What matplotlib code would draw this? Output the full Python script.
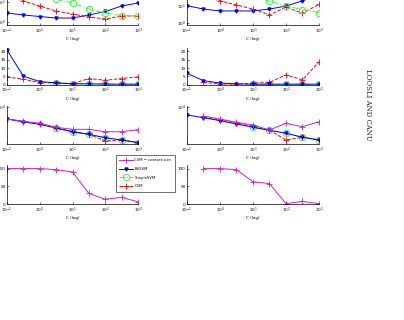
import numpy as np
import matplotlib
matplotlib.use("Agg")
import matplotlib.pyplot as plt
from matplotlib.ticker import FixedLocator, NullLocator

nan = np.nan
C = [0.1, 0.316, 1, 3.16, 10, 31.6, 100, 316, 1000]
x_ticks = [0.1, 1, 10, 100, 1000]
x_tick_labels = [r"$10^{-1}$", r"$10^{0}$", r"$10^{1}$", r"$10^{2}$", r"$10^{3}$"]

# Row 1 (log scale)
r1L_blue = [2.82, 2.24, 1.88, 1.58, 1.58, 2.24, 3.35, 6.31, 8.91]
r1L_red = [20.0, 11.2, 6.3, 3.55, 2.5, 1.8, 1.41, 2.0, 2.0]
r1L_green = [nan, nan, nan, 14.0, 8.9, 4.5, 2.8, 2.1, 2.0]
r1R_blue = [10.4, 6.6, 5.1, 5.1, 5.1, 6.6, 10.0, 20.0, 50.0]
r1R_red = [nan, 39.0, 20.0, 11.4, 6.6, 2.95, 8.7, 3.7, 12.6]
r1R_green = [nan, nan, nan, nan, 39.0, 19.6, 10.0, 6.2, 4.1]

# Row 2 (linear)
r2L_blue = [20.8, 5.1, 1.9, 1.1, 0.6, 0.5, 0.4, 0.3, 0.3]
r2L_red = [4.7, 3.3, 1.3, 1.0, 0.6, 3.7, 2.7, 3.7, 4.7]
r2L_green = [nan, nan, nan, 1.0, 0.6, 0.4, 0.4, 0.3, 0.3]
r2R_blue = [6.9, 2.4, 1.0, 0.5, 0.3, 0.3, 0.3, 0.3, 0.3]
r2R_red = [nan, 1.4, 0.5, 0.3, 1.0, 1.4, 5.9, 2.9, 13.7]
r2R_green = [nan, nan, nan, nan, 0.5, 0.3, 0.3, 0.3, 0.3]

# Row 3 (log scale, exponents of 10)
r3L_mag = [3.8, 3.762, 3.728, 3.662, 3.628, 3.628, 3.588, 3.588, 3.622]
r3L_blue = [3.8, 3.755, 3.712, 3.65, 3.588, 3.545, 3.488, 3.45, 3.405]
r3L_red = [3.8, 3.755, 3.712, 3.65, 3.588, 3.545, 3.433, 3.45, 3.405]
r3L_green = [nan, nan, nan, 3.65, 3.588, 3.545, 3.488, 3.45, 3.405]
r3R_mag = [nan, 3.85, 3.8, 3.745, 3.7, 3.617, 3.728, 3.672, 3.755]
r3R_blue = [3.867, 3.822, 3.772, 3.717, 3.662, 3.612, 3.562, 3.495, 3.45]
r3R_red = [nan, 3.833, 3.783, 3.733, 3.675, 3.612, 3.45, 3.495, 3.45]
r3R_green = [nan, nan, nan, nan, 3.662, 3.612, 3.562, 3.495, 3.45]

# Row 4 (coreset size, %)
r4L_mag = [100, 100, 100, 97, 90.5, 30.5, 14, 19.5, 7]
r4R_mag = [nan, 100, 100, 97, 63, 58, 2, 8, 2]

W, H = 404, 320
fig = plt.figure(figsize=(W / 100, H / 100), dpi=100)

FS = 3.0
LW = 0.7
GREEN = "#44ee44"

def ax_at(xpx, ytop, xw, ybot):
    return fig.add_axes([xpx / W, 1 - ybot / H, xw / W, (ybot - ytop) / H])

def style(ax):
    for s in ("top", "right"):
        ax.spines[s].set_visible(False)
    for s in ("left", "bottom"):
        ax.spines[s].set_linewidth(0.5)
    ax.set_xscale("log")
    ax.set_xlim(0.1, 1000)
    ax.xaxis.set_major_locator(FixedLocator(x_ticks))
    ax.set_xticklabels(x_tick_labels)
    ax.xaxis.set_minor_locator(NullLocator())
    ax.tick_params(labelsize=FS, length=1.5, width=0.4, direction="in", pad=1)
    ax.set_xlabel("C (log)", fontsize=FS, labelpad=1)
    ax.patch.set_alpha(0)

def plot_blue(ax, y):
    return ax.plot(C, y, color="#0000ff", lw=LW, ls="-", marker="v", ms=2.2, mfc="#0000ff", mec="#0000ff", label="BVSVM")[0]

def plot_red(ax, y):
    return ax.plot(C, y, color="#ff0000", lw=LW, ls="--", marker="+", ms=5, mew=0.6, label="CVM")[0]

def plot_green(ax, y):
    return ax.plot(C, y, color=GREEN, lw=LW, ls="-.", marker="o", ms=4.6, mfc="none", mec=GREEN, mew=0.7, label="SimpleSVM")[0]

def plot_mag(ax, y):
    return ax.plot(C, y, color="#cc22cc", lw=LW, ls="-", marker="+", ms=5, mew=0.6, label="CVM \u2212 coreset size")[0]

cols = [(7, 131), (187, 132)]
rows = [(-12, 25), (48, 84.7), (106, 144), (165, 204.3)]

# Row 1
for (x0, w), blue, red, green, ylim in [
    (cols[0], r1L_blue, r1L_red, r1L_green, (10 ** -0.15, 10 ** 1.7)),
    (cols[1], r1R_blue, r1R_red, r1R_green, (10 ** -0.12, 10 ** 2.06)),
]:
    ax = ax_at(x0, rows[0][0], w, rows[0][1])
    style(ax)
    ax.set_yscale("log")
    ax.yaxis.set_major_locator(FixedLocator([1, 10]))
    ax.yaxis.set_minor_locator(NullLocator())
    ax.set_yticklabels([r"$10^{0}$", r"$10^{1}$"])
    plot_blue(ax, blue)
    plot_red(ax, red)
    plot_green(ax, green)
    ax.set_ylim(*ylim)

# Row 2
for (x0, w), blue, red, green in [
    (cols[0], r2L_blue, r2L_red, r2L_green),
    (cols[1], r2R_blue, r2R_red, r2R_green),
]:
    ax = ax_at(x0, rows[1][0], w, rows[1][1])
    style(ax)
    plot_green(ax, green)
    plot_red(ax, red)
    plot_blue(ax, blue)
    ax.set_ylim(0, 22)
    ax.set_yticks([0, 5, 10, 15, 20])

# Row 3
handles = {}
for (x0, w), mag, blue, red, green in [
    (cols[0], r3L_mag, r3L_blue, r3L_red, r3L_green),
    (cols[1], r3R_mag, r3R_blue, r3R_red, r3R_green),
]:
    ax = ax_at(x0, rows[2][0], w, rows[2][1])
    style(ax)
    ax.set_yscale("log")
    handles["g"] = plot_green(ax, 10 ** np.array(green))
    handles["r"] = plot_red(ax, 10 ** np.array(red))
    handles["b"] = plot_blue(ax, 10 ** np.array(blue))
    handles["m"] = plot_mag(ax, 10 ** np.array(mag))
    ax.set_ylim(10 ** 3.383, 10 ** 4.017)
    ax.yaxis.set_major_locator(FixedLocator([1e4]))
    ax.yaxis.set_minor_locator(NullLocator())
    ax.set_yticklabels([r"$10^{4}$"])

# Row 4
for (x0, w), mag in [(cols[0], r4L_mag), (cols[1], r4R_mag)]:
    ax = ax_at(x0, rows[3][0], w, rows[3][1])
    style(ax)
    plot_mag(ax, mag)
    ax.set_ylim(0, 110)
    ax.set_yticks([0, 50, 100])

leg = fig.legend([handles["m"], handles["b"], handles["g"], handles["r"]],
                 ["CVM \u2212 coreset size", "BVSVM", "SimpleSVM", "CVM"],
                 loc="upper left", bbox_to_anchor=(116 / W, 1 - 155 / H),
                 fontsize=2.7, frameon=True, fancybox=False, handlelength=3.6,
                 borderpad=0.9, labelspacing=1.25, handletextpad=0.4, borderaxespad=0)
leg.get_frame().set_edgecolor("black")
leg.get_frame().set_linewidth(0.5)

fig.text(368 / W, 1 - 105 / H, "LOOSLI AND CANU", rotation=-90, ha="center", va="center",
         fontsize=5, family="DejaVu Serif", color="#222222")

fig.savefig("out.png", dpi=100)
